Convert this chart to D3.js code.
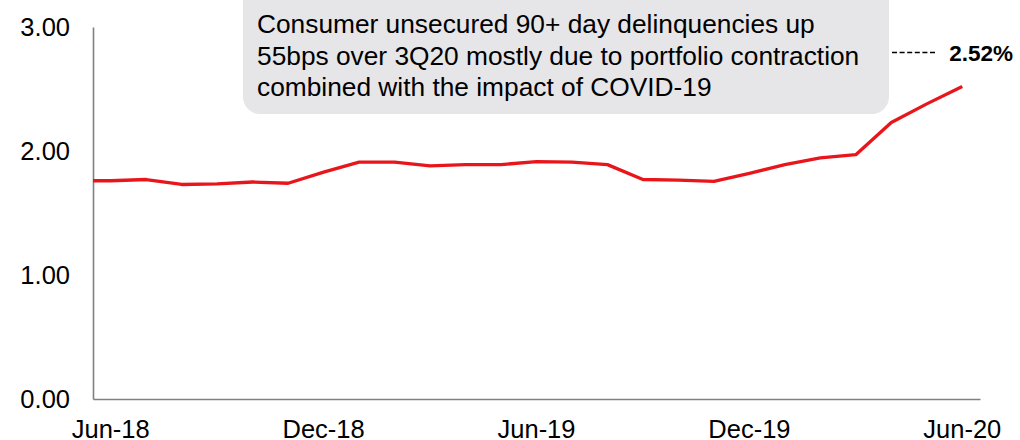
<!DOCTYPE html>
<html>
<head>
<meta charset="utf-8">
<script src="https://cdn.jsdelivr.net/npm/d3@7"></script>
<style>
  body { margin: 0; background: #fff; }
  svg { display: block; font-family: "Liberation Sans", Arial, sans-serif; }
</style>
</head>
<body>
<div id="chart"></div>
<script>
// Consumer unsecured 90+ day delinquency rate (%), monthly
var months = ["Jun-18", "Jul-18", "Aug-18", "Sep-18", "Oct-18", "Nov-18", "Dec-18",
  "Jan-19", "Feb-19", "Mar-19", "Apr-19", "May-19", "Jun-19", "Jul-19", "Aug-19",
  "Sep-19", "Oct-19", "Nov-19", "Dec-19", "Jan-20", "Feb-20", "Mar-20", "Apr-20",
  "May-20", "Jun-20"];
var rates = [1.76, 1.77, 1.73, 1.735, 1.75, 1.74, 1.83, 1.91, 1.91, 1.88, 1.89, 1.89,
  1.915, 1.91, 1.89, 1.77, 1.765, 1.755, 1.82, 1.89, 1.945, 1.97, 2.23, 2.38, 2.52];
var xTickLabels = ["Jun-18", "Dec-18", "Jun-19", "Dec-19", "Jun-20"];
var yTickValues = [0, 1, 2, 3];
var noteLines = [
  "Consumer unsecured 90+ day delinquencies up",
  "55bps over 3Q20 mostly due to portfolio contraction",
  "combined with the impact of COVID-19"
];
var lastLabel = "2.52%";

var svgWidth = 1020;
var svgHeight = 440;

var svg = d3.select("#chart")
  .append("svg")
  .attr("width", svgWidth)
  .attr("height", svgHeight);

// scales
var x = d3.scaleBand()
  .domain(months)
  .range([93, 980])
  .padding(0);

var y = d3.scaleLinear()
  .domain([0, 3])
  .range([399, 27]);

var cx = d => x(d) + x.bandwidth() / 2;

// axes
var leftAxis = d3.axisLeft(y)
  .tickValues(yTickValues)
  .tickFormat(d3.format(".2f"))
  .tickSize(0)
  .tickPadding(23);

var bottomAxis = d3.axisBottom(x)
  .tickValues(xTickLabels)
  .tickSize(0)
  .tickPadding(21);

var yAxisG = svg.append("g")
  .attr("transform", "translate(93,0)")
  .call(leftAxis);

var xAxisG = svg.append("g")
  .attr("transform", "translate(0,399)")
  .call(bottomAxis);

[yAxisG, xAxisG].forEach(function(g) {
  g.select(".domain").attr("stroke", "#808080").attr("stroke-width", 1.6);
  g.selectAll("text")
    .attr("fill", "#000")
    .style("font-size", "25.5px")
    .style("font-family", "'Liberation Sans', Arial, sans-serif");
});

// annotation box
var note = svg.append("g");
note.append("rect")
  .attr("x", 243)
  .attr("y", -16)
  .attr("width", 646)
  .attr("height", 130)
  .attr("rx", 17)
  .attr("fill", "#e6e5e8");

note.selectAll("text")
  .data(noteLines)
  .enter()
  .append("text")
  .attr("x", 257)
  .attr("y", (d, i) => 33 + i * 31.7)
  .style("font-size", "26.3px")
  .attr("fill", "#000")
  .text(d => d);

// line (first segment runs from the axis)
var linePts = months.map((m, i) => [cx(m), y(rates[i])]);
linePts.unshift([x.range()[0], y(rates[0])]);

svg.append("path")
  .datum(linePts)
  .attr("fill", "none")
  .attr("stroke", "#e8161b")
  .attr("stroke-width", 3.3)
  .attr("stroke-linejoin", "round")
  .attr("d", d3.line());

// callout for last value
svg.append("line")
  .attr("x1", 892)
  .attr("x2", 937)
  .attr("y1", 52.5)
  .attr("y2", 52.5)
  .attr("stroke", "#000")
  .attr("stroke-width", 1.3)
  .attr("stroke-dasharray", "5,2.6");

svg.append("text")
  .attr("x", 1013)
  .attr("y", 61)
  .attr("text-anchor", "end")
  .style("font-size", "22.5px")
  .style("font-weight", "bold")
  .text(lastLabel);
</script>
</body>
</html>
